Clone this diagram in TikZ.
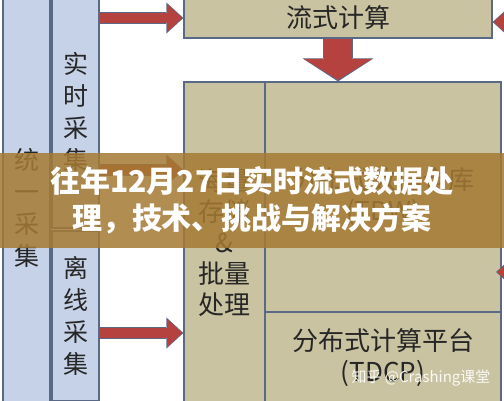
\documentclass[tikz,border=0pt]{standalone}
\usepackage{fontspec}
\setmainfont{Noto Sans CJK SC}
\usetikzlibrary{arrows.meta}
\definecolor{colblue}{HTML}{C6D2E7}
\definecolor{boxkhaki}{HTML}{C9C3A1}
\definecolor{edgeblue}{HTML}{5A6A86}
\definecolor{arrowred}{HTML}{B5423F}
\definecolor{bannerbrown}{HTML}{A57A33}
\definecolor{inkgray}{HTML}{262626}

\begin{document}
\begin{tikzpicture}
  [x=1pt,y=-1pt,
   colbox/.style={rectangle,draw=edgeblue,line width=1.2pt,fill=colblue,text=inkgray,
     align=center,inner sep=0pt,font=\fontsize{25}{32}\selectfont},
   calcbox/.style={rectangle,draw=edgeblue,line width=1.2pt,fill=boxkhaki,text=inkgray,
     align=center,inner sep=0pt,font=\fontsize{26}{31}\selectfont},
   feededge/.style={draw=edgeblue,line width=12pt,-{Triangle[length=17pt,width=31pt,line width=0pt]}},
   feedfill/.style={draw=arrowred,line width=10pt,shorten >=1.2pt,-{Triangle[length=15pt,width=28pt,line width=0pt]}},
   downedge/.style={draw=edgeblue,line width=30pt,-{Triangle[length=23pt,width=71pt,line width=0pt]}},
   downfill/.style={draw=arrowred,line width=28pt,shorten >=1.5pt,-{Triangle[length=21pt,width=68pt,line width=0pt]}}]
  \useasboundingbox (0,0) rectangle (504,400);
  \clip (0,0) rectangle (504,400);
  \fill[white] (0,0) rectangle (504,400);

  % collection columns
  \node[colbox,minimum width=47pt,minimum height=426pt] (unify) at (26.5,208) {统\\一\\采\\集};
  \node[colbox,minimum width=47pt,minimum height=232pt] (realtime) at (75.5,112) {实\\时\\采\\集};
  \node[colbox,minimum width=47pt,minimum height=170pt] (offline) at (75.5,316) {离\\线\\采\\集};

  % computing side
  \node[calcbox,minimum width=308pt,minimum height=40pt] (stream) at (338,18) {流式计算};
  \node[calcbox,minimum width=81pt,minimum height=322pt] (store) at (224.5,243) {海量\\存储\\\&\\批量\\处理};
  \node[calcbox,minimum width=236pt,minimum height=230pt] (tdw) at (383,197) {分布式数据仓库\\(TDW)};
  \node[calcbox,minimum width=236pt,minimum height=92pt] (tdcp) at (383,358) {分布式计算平台\\(TDCP)};

  \coordinate (mid) at (0,170);
  \coordinate (low) at (0,333);
  \coordinate (a1) at (realtime.east |- stream.west);
  \coordinate (a2) at (realtime.east |- mid);
  \coordinate (b2) at (store.west |- mid);
  \coordinate (a3) at (offline.east |- low);
  \coordinate (b3) at (store.west |- low);
  \coordinate (in1) at (540,22);
  \coordinate (b4) at (stream.east |- in1);
  \coordinate (in2) at (540,272);
  \coordinate (b5) at (496,272);
  \coordinate (c1) at (stream.south |- tdw.north);

  \foreach \from/\to in {a1/stream.west, a2/b2, a3/b3, in1/b4, in2/b5}
    {\draw[feededge] (\from) -- (\to);
     \draw[feedfill] (\from) -- (\to);}
  \draw[downedge] (stream.south) -- (c1);
  \draw[downfill] (stream.south) -- (c1);

  % title band and watermark
  \node[rectangle,fill=bannerbrown,fill opacity=0.85,text opacity=1,text=white,
    minimum width=510pt,minimum height=95pt,align=center,
    font=\fontsize{30}{37}\selectfont\bfseries] (title) at (252,200)
    {往年12月27日实时流式数据处\\理，技术、挑战与解决方案};
  \node[text=white,opacity=0.9,font=\fontsize{15}{15}\selectfont] (mark) at (421,378) {知乎 @Crashing课堂};
\end{tikzpicture}
\end{document}
